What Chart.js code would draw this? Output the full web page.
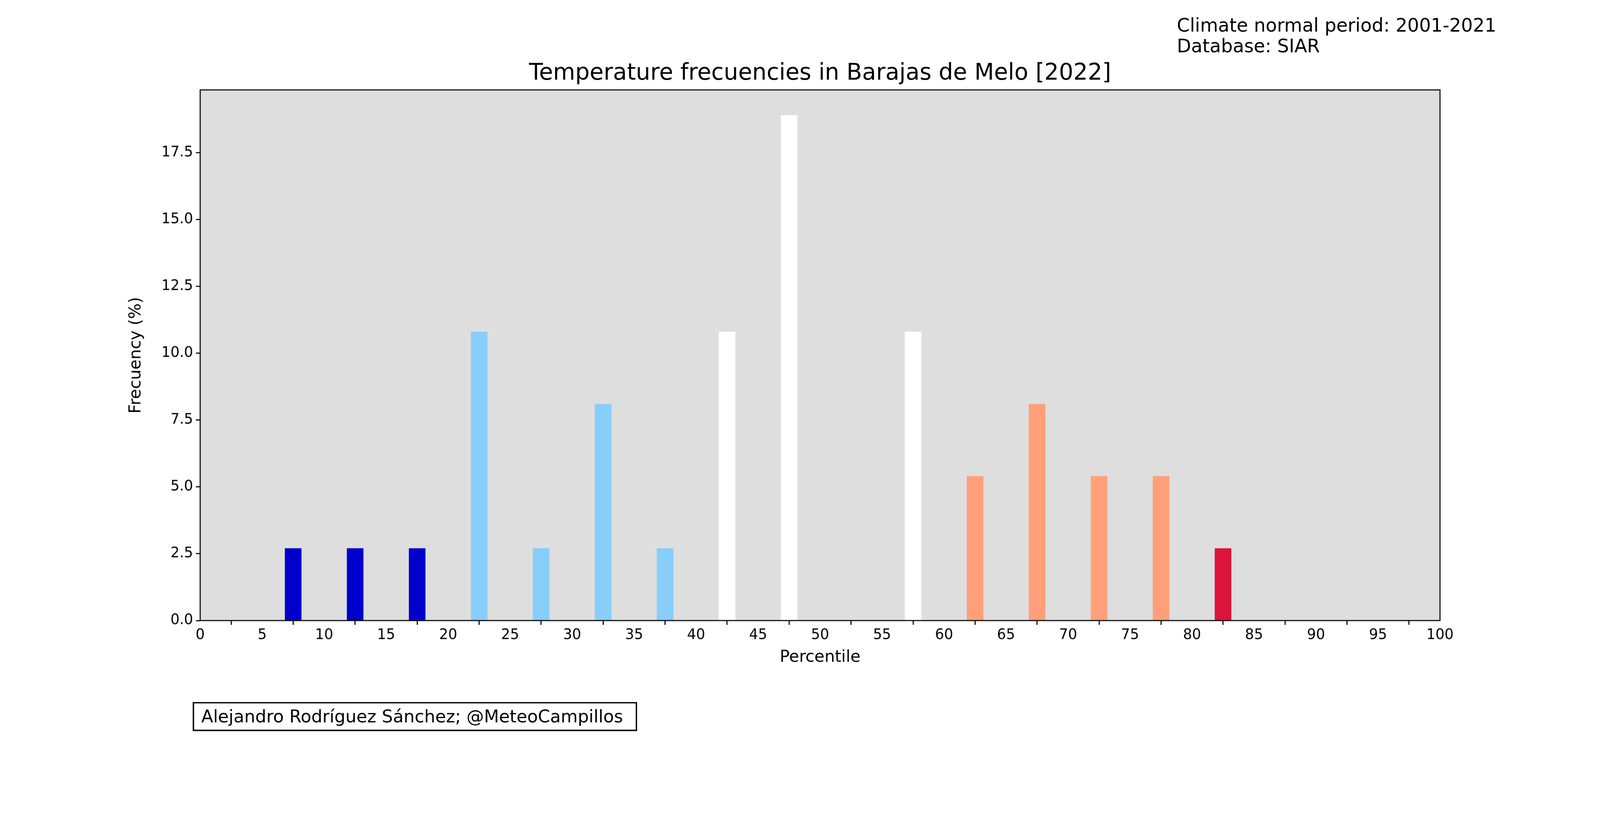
<!DOCTYPE html>
<html>
<head>
<meta charset="utf-8">
<script src="https://cdn.jsdelivr.net/npm/chart.js@4"></script>
<style>
  html, body { margin: 0; background: #fff; font-family: "DejaVu Sans", sans-serif; overflow: hidden; }
  #wrap { position: relative; width: 4500px; height: 2100px; transform-origin: 0 0; }
  .txt { position: absolute; color: #000; white-space: nowrap; }
</style>
</head>
<body>
<div id="wrap">
  <canvas id="graphCanvas" width="4500" height="2100" style="width:4500px;height:2100px;"></canvas>
  <div class="txt" style="left:3310px; top:42px; font-size:52px; line-height:58px;">Climate normal period: 2001-2021<br>Database: SIAR</div>
  <div class="txt" style="left:563px; width:3487px; top:165px; font-size:64px; text-align:center;">Temperature frecuencies in Barajas de Melo [2022]</div>
  <div class="txt" style="left:542px; top:1975px; width:1250px; height:82px; border:4px solid #000; font-size:49px; line-height:74px; padding-left:20px; box-sizing:border-box;">Alejandro Rodríguez Sánchez; @MeteoCampillos</div>
</div>
<script>
// Ajustar a la ventana real
const escala = window.innerWidth / 4500;
document.getElementById('wrap').style.transform = 'scale(' + escala + ')';

// Centros de los intervalos de percentil
const percentiles = [2.5, 7.5, 12.5, 17.5, 22.5, 27.5, 32.5, 37.5, 42.5, 47.5, 52.5, 57.5, 62.5, 67.5, 72.5, 77.5, 82.5, 87.5, 92.5, 97.5];
const frecuencias = [0, 2.7, 2.7, 2.7, 10.8, 2.7, 8.1, 2.7, 10.8, 18.9, 0, 10.8, 5.4, 8.1, 5.4, 5.4, 2.7, 0, 0, 0];
const colores = ['#0000CD', '#0000CD', '#0000CD', '#0000CD',
                 '#87CEFA', '#87CEFA', '#87CEFA', '#87CEFA',
                 '#FFFFFF', '#FFFFFF', '#FFFFFF', '#FFFFFF',
                 '#FFA07A', '#FFA07A', '#FFA07A', '#FFA07A',
                 '#DC143C', '#DC143C', '#DC143C', '#DC143C'];

const fondo = {
    id: 'fondo',
    beforeDatasetsDraw(chart) {
        const a = chart.chartArea, ctx = chart.ctx;
        ctx.save();
        ctx.fillStyle = '#DEDEDE';
        ctx.fillRect(a.left, a.top, a.right - a.left, a.bottom - a.top);
        ctx.restore();
    },
    afterDraw(chart) {
        const a = chart.chartArea, ctx = chart.ctx;
        ctx.save();
        ctx.strokeStyle = '#000';
        ctx.lineWidth = 3;
        ctx.strokeRect(a.left, a.top, a.right - a.left, a.bottom - a.top);
        ctx.restore();
    }
};

Chart.defaults.font.family = '"DejaVu Sans", sans-serif';
Chart.defaults.color = '#000';

new Chart(document.getElementById('graphCanvas').getContext('2d'), {
    type: 'bar',
    data: {
        datasets: [{
            data: percentiles.map((p, i) => ({x: p, y: frecuencias[i]})),
            backgroundColor: colores,
            borderWidth: 0,
            barThickness: 46
        }]
    },
    options: {
        responsive: false,
        devicePixelRatio: 1,
        animation: false,
        layout: { padding: { left: 355, right: 450, top: 253, bottom: 222 } },
        plugins: { legend: { display: false }, tooltip: { enabled: false } },
        scales: {
            x: {
                type: 'linear', min: 0, max: 100, offset: false,
                ticks: { stepSize: 5, font: { size: 40 }, padding: 6, maxRotation: 0, autoSkip: false },
                grid: { drawOnChartArea: false, drawTicks: true, tickLength: 12, color: '#000', lineWidth: 3 },
                border: { display: false },
                title: { display: true, text: 'Percentile', font: { size: 46 }, padding: 0 },
                afterFit(s) { s.height = 132; }
            },
            y: {
                min: 0, max: 19.85,
                ticks: { stepSize: 2.5, font: { size: 40 }, padding: 8, callback: v => v.toFixed(1) },
                afterBuildTicks(s) { s.ticks = s.ticks.filter(t => Math.abs(t.value / 2.5 - Math.round(t.value / 2.5)) < 1e-6); },
                grid: { drawOnChartArea: false, drawTicks: true, tickLength: 12, color: '#000', lineWidth: 3 },
                border: { display: false },
                title: { display: true, text: 'Frecuency (%)', font: { size: 46 }, padding: 0 },
                afterFit(s) { s.width = 208; }
            }
        }
    },
    plugins: [fondo]
});
</script>
</body>
</html>
